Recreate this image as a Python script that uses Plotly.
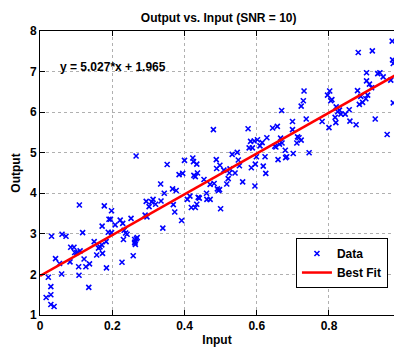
import plotly.graph_objects as go

# Data points
x_data = [0.017,0.023,0.030,0.030,0.030,0.039,0.032,0.043,0.054,0.060,0.061,0.072,0.083,0.085,0.094,0.096,0.102,0.107,0.108,0.109,
          0.111,0.118,0.122,0.127,0.135,0.137,0.150,0.157,0.162,0.166,0.171,0.172,0.173,0.178,0.183,0.184,0.189,0.191,0.195,0.198,
          0.198,0.208,0.222,0.227,0.229,0.231,0.233,0.237,0.241,0.252,0.258,0.262,0.264,0.266,0.269,0.263,0.262,0.267,0.291,0.294,
          0.296,0.302,0.309,0.313,0.320,0.334,0.335,0.340,0.344,0.352,0.367,0.369,0.373,0.377,0.385,0.392,0.395,0.400,0.408,0.415,
          0.419,0.423,0.425,0.426,0.430,0.430,0.434,0.434,0.436,0.438,0.441,0.454,0.461,0.462,0.471,0.471,0.480,0.482,0.488,0.489,
          0.491,0.494,0.497,0.498,0.500,0.509,0.517,0.521,0.524,0.526,0.532,0.540,0.546,0.549,0.552,0.561,0.576,0.579,0.583,0.585,
          0.588,0.593,0.595,0.596,0.599,0.602,0.609,0.615,0.618,0.623,0.625,0.628,0.644,0.650,0.653,0.657,0.659,0.663,0.666,0.669,
          0.670,0.679,0.680,0.683,0.699,0.699,0.701,0.711,0.713,0.717,0.723,0.723,0.729,0.731,0.737,0.745,0.781,0.796,0.800,0.802,
          0.805,0.808,0.817,0.819,0.820,0.824,0.829,0.833,0.845,0.856,0.858,0.875,0.879,0.881,0.884,0.888,0.893,0.902,0.904,0.904,
          0.907,0.912,0.918,0.920,0.928,0.935,0.941,0.950,0.961,0.971,0.975,0.976,0.978,0.978]
y_data = [1.43,1.93,1.70,1.50,1.26,1.21,2.94,2.39,2.27,2.01,2.99,2.94,2.31,2.67,2.67,2.54,2.54,2.19,1.98,3.71,
          2.58,3.03,2.38,2.19,1.68,2.26,2.81,2.48,2.65,2.68,2.73,3.19,2.52,3.69,2.81,2.16,3.04,3.36,3.36,3.57,
          3.03,3.22,3.34,2.30,3.26,2.86,3.09,3.02,2.99,3.38,2.46,2.86,2.74,4.92,2.91,2.80,2.78,2.88,3.46,3.80,
          3.42,3.67,3.79,3.85,3.73,4.23,3.81,3.14,4.00,4.71,4.11,3.72,3.54,4.07,4.46,3.33,4.49,4.81,3.85,3.93,
          3.65,4.87,4.78,4.44,4.41,3.65,4.72,3.73,4.50,3.90,3.88,4.34,4.00,3.85,4.22,3.85,5.57,4.24,4.83,4.61,
          4.11,4.07,4.09,4.69,3.62,4.57,4.23,4.36,4.50,4.60,4.96,4.50,5.01,4.82,4.68,4.28,5.59,5.12,5.28,4.63,
          5.12,5.29,4.18,4.72,4.90,5.32,5.17,5.25,4.67,4.90,4.49,5.37,5.61,5.16,5.14,5.65,4.83,5.21,5.36,6.04,
          5.24,5.06,4.88,4.90,5.57,5.77,4.98,5.24,5.39,5.37,5.31,6.15,6.28,6.52,5.83,5.00,5.77,6.42,5.62,6.52,
          6.28,6.31,5.87,5.74,6.13,6.01,6.05,5.95,5.95,6.06,5.78,5.69,6.53,7.47,6.19,6.39,6.24,6.33,6.97,6.77,
          6.42,6.69,6.60,7.51,5.83,6.95,6.97,6.87,5.45,6.79,7.75,7.29,7.20,6.23]

slope = 5.027
intercept = 1.965
fit_x = [0.0, 1.0]
fit_y = [slope * v + intercept for v in fit_x]

x_ticks = [0, 0.2, 0.4, 0.6, 0.8]
x_tick_text = ["0", "0.2", "0.4", "0.6", "0.8"]
y_ticks = [1, 2, 3, 4, 5, 6, 7, 8]

FONT = "Liberation Sans, Arial, Helvetica, sans-serif"

fig = go.Figure()
fig.add_trace(go.Scatter(
    x=x_data, y=y_data, mode="markers", name="Data",
    marker=dict(symbol="x-thin", size=5, color="#0000ff",
                line=dict(color="#0000ff", width=1.6)),
))
fig.add_trace(go.Scatter(
    x=fit_x, y=fit_y, mode="lines", name="Best Fit",
    line=dict(color="#ff0000", width=2.5),
))

fig.add_annotation(
    x=0.051, y=7.11, xref="x", yref="y", xanchor="left", yanchor="middle",
    text="y = 5.027*x + 1.965", showarrow=False,
    font=dict(family=FONT, size=12, color="black", weight="bold"),
)

fig.update_layout(
    width=394, height=347,
    margin=dict(l=40, r=0, t=31, b=32),
    paper_bgcolor="white", plot_bgcolor="white",
    font=dict(family=FONT, color="black"),
    title=dict(text="Output vs. Input (SNR = 10)", x=0.555, xanchor="center",
               y=0.95, yanchor="middle",
               font=dict(family=FONT, size=12, color="black", weight="bold")),
    showlegend=True,
    legend=dict(x=0.723, y=0.271, xanchor="left", yanchor="top",
                bgcolor="white", bordercolor="black", borderwidth=1,
                font=dict(family=FONT, size=12, color="black", weight="bold"),
                tracegroupgap=0, itemwidth=30),
)

fig.update_xaxes(
    range=[0, 0.98], tickvals=x_ticks, ticktext=x_tick_text,
    showline=True, linecolor="black", linewidth=1, mirror="ticks",
    ticks="inside", ticklen=5, tickcolor="black",
    showgrid=True, gridcolor="#b0b0b0", griddash="dot", gridwidth=1,
    zeroline=False,
    tickfont=dict(family=FONT, size=12, color="black", weight="bold"),
    title=dict(text="Input", standoff=4,
               font=dict(family=FONT, size=12, color="black", weight="bold")),
)
fig.update_yaxes(
    range=[1, 8], tickvals=y_ticks,
    showline=True, linecolor="black", linewidth=1, mirror=False,
    ticks="inside", ticklen=5, tickcolor="black",
    showgrid=True, gridcolor="#b0b0b0", griddash="dot", gridwidth=1,
    zeroline=False,
    tickfont=dict(family=FONT, size=12, color="black", weight="bold"),
    title=dict(text="Output", standoff=6,
               font=dict(family=FONT, size=12, color="black", weight="bold")),
)

fig.write_html("out.html")
